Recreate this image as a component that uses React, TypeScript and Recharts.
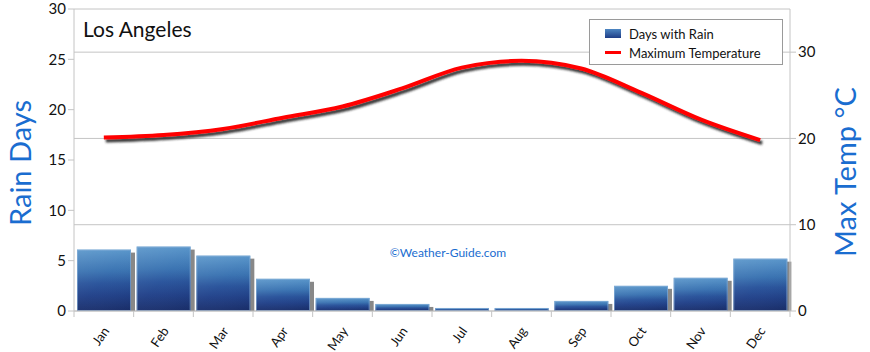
import {
  ComposedChart,
  Bar,
  Line,
  XAxis,
  YAxis,
  CartesianGrid,
} from 'recharts';

const months = ['Jan', 'Feb', 'Mar', 'Apr', 'May', 'Jun', 'Jul', 'Aug', 'Sep', 'Oct', 'Nov', 'Dec'];
const rainDays = [6.1, 6.4, 5.5, 3.2, 1.3, 0.7, 0.3, 0.3, 1.0, 2.5, 3.3, 5.2];
const maxTemp = [20.1, 20.4, 21.1, 22.4, 23.7, 25.8, 28.2, 29.0, 28.1, 25.3, 22.2, 19.8];
const rainTicks = [0, 5, 10, 15, 20, 25, 30];
const tempTicks = [0, 10, 20, 30];

const data = months.map((m, i) => ({ month: m, rain: rainDays[i], temp: maxTemp[i] }));

const W = 870;
const H = 352;
const LEFT = 74;
const RIGHT = 80;
const BAND = (W - LEFT - RIGHT) / months.length;
const FONT = 'Lato, "Open Sans", sans-serif';
const GRID = '#c4c4c4';
const BLUE = '#1a6dd0';

function RainBar(props: any) {
  const { x, y, width, height } = props;
  if (!height || height <= 0) return null;
  return (
    <g>
      <rect x={x + 4} y={y + 3} width={width} height={height - 3} fill="#6a6a6a" opacity={0.8} />
      <rect x={x} y={y} width={width} height={height} fill="url(#barGrad)" />
      <rect x={x} y={y} width={width} height={height} fill="url(#barShine)" />
      <rect x={x + 0.5} y={y + 0.5} width={width - 1} height={height - 1} fill="none" stroke="#8fb6dc" strokeOpacity={0.6} />
    </g>
  );
}

function MonthTick(props: any) {
  const { x, y, payload, index } = props;
  const tx = x + 6;
  const ty = y + 12;
  return (
    <g>
      {index === 0 && <line x1={x - BAND / 2} x2={x - BAND / 2} y1={y - 8} y2={y - 2} stroke={GRID} />}
      <line x1={x + BAND / 2} x2={x + BAND / 2} y1={y - 8} y2={y - 2} stroke={GRID} />
      <text
        x={tx}
        y={ty}
        textAnchor="end"
        fontSize={13}
        fontFamily={FONT}
        fill="#111"
        transform={`rotate(-55, ${tx}, ${ty})`}
      >
        {payload.value}
      </text>
    </g>
  );
}

function LegendBox() {
  return (
    <div
      style={{
        position: 'absolute',
        left: 589,
        top: 19,
        width: 194,
        height: 46,
        border: '1px solid #9a9a9a',
        background: '#fff',
        fontFamily: FONT,
        fontSize: 13,
        color: '#111',
        boxSizing: 'border-box',
        padding: '4px 0 0 15px',
      }}
    >
      <div style={{ display: 'flex', alignItems: 'center', height: 19 }}>
        <span
          style={{
            width: 16,
            height: 9,
            marginRight: 8,
            background: 'linear-gradient(#4d86c2, #1e3d86)',
            display: 'inline-block',
          }}
        />
        Days with Rain
      </div>
      <div style={{ display: 'flex', alignItems: 'center', height: 19 }}>
        <span style={{ width: 16, height: 3, marginRight: 8, background: '#ff0000', display: 'inline-block' }} />
        Maximum Temperature
      </div>
    </div>
  );
}

export default function App() {
  return (
    <div style={{ position: 'relative', width: W, height: H, background: '#fff' }}>
      <style>{'body{margin:0}'}</style>
      <ComposedChart width={W} height={H} data={data} margin={{ top: 9, right: 0, bottom: 0, left: 0 }} barCategoryGap={3}>
        <defs>
          <linearGradient id="barGrad" x1="0" y1="0" x2="0" y2="1">
            <stop offset="0%" stopColor="#5593c9" />
            <stop offset="35%" stopColor="#3670b0" />
            <stop offset="55%" stopColor="#26519a" />
            <stop offset="75%" stopColor="#1f3f88" />
            <stop offset="100%" stopColor="#1a2f6c" />
          </linearGradient>
          <linearGradient id="barShine" x1="0" y1="0" x2="1" y2="1">
            <stop offset="0%" stopColor="#ffffff" stopOpacity={0.1} />
            <stop offset="50%" stopColor="#ffffff" stopOpacity={0.03} />
            <stop offset="100%" stopColor="#000000" stopOpacity={0.05} />
          </linearGradient>
          <filter id="lineShadow" x="-5%" y="-20%" width="110%" height="140%">
            <feDropShadow dx="2" dy="3" stdDeviation="1.3" floodColor="#222" floodOpacity="0.9" />
          </filter>
        </defs>
        <CartesianGrid yAxisId="right" vertical={false} stroke={GRID} />
        <XAxis
          dataKey="month"
          height={41}
          tickLine={false}
          axisLine={{ stroke: GRID }}
          tick={<MonthTick />}
          interval={0}
        />
        <XAxis xAxisId="top" dataKey="month" orientation="top" height={0} tick={false} tickLine={false} axisLine={{ stroke: GRID }} />
        <YAxis
          yAxisId="left"
          width={LEFT}
          domain={[0, 30]}
          ticks={rainTicks}
          interval={0}
          axisLine={{ stroke: GRID }}
          tickLine={{ stroke: GRID }}
          tickSize={6}
          tick={{ fill: '#111', fontSize: 15, fontFamily: FONT }}
          label={{
            content: () => (
              <text
                x={31}
                y={163}
                textAnchor="middle"
                fill={BLUE}
                fontSize={29}
                fontFamily={FONT}
                transform="rotate(-90, 31, 163)"
              >
                Rain Days
              </text>
            ),
          }}
        />
        <YAxis
          yAxisId="right"
          orientation="right"
          width={RIGHT}
          domain={[0, 35]}
          ticks={tempTicks}
          interval={0}
          axisLine={{ stroke: GRID }}
          tickLine={{ stroke: GRID }}
          tickSize={6}
          tick={{ fill: '#111', fontSize: 15, fontFamily: FONT }}
          label={{
            content: () => (
              <text
                x={856}
                y={172}
                textAnchor="middle"
                fill={BLUE}
                fontSize={29}
                fontFamily={FONT}
                transform="rotate(-90, 856, 172)"
              >
                Max Temp °C
              </text>
            ),
          }}
        />
        <Bar yAxisId="left" dataKey="rain" shape={<RainBar />} isAnimationActive={false} />
        <Line
          yAxisId="right"
          type="monotone"
          dataKey="temp"
          stroke="#ff0000"
          strokeWidth={4}
          dot={false}
          filter="url(#lineShadow)"
          isAnimationActive={false}
        />
        <text x={83} y={37} fontSize={21} fontFamily={FONT} fill="#111">
          Los Angeles
        </text>
        <text x={448} y={257} fontSize={12} fontFamily={FONT} fill={BLUE} textAnchor="middle">
          ©Weather-Guide.com
        </text>
      </ComposedChart>
      <LegendBox />
    </div>
  );
}
